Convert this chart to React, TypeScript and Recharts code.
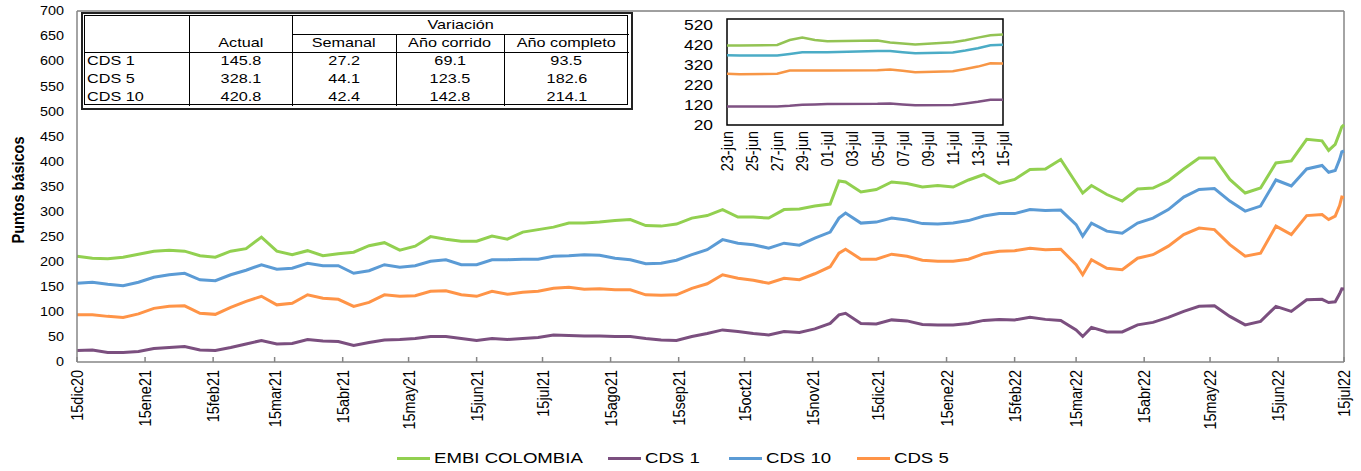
import {
  LineChart,
  Line,
  XAxis,
  YAxis,
  ReferenceLine,
  ReferenceArea,
} from "recharts";

// days since 15-dic-2020
const days = [
  0, 7, 14, 21, 28, 35, 42, 49, 56, 63, 70, 77, 84, 91, 98, 105, 112,
  119, 126, 133, 140, 147, 154, 161, 168, 175, 182, 189, 196, 203, 210, 217, 224, 231,
  238, 245, 252, 259, 266, 273, 280, 287, 294, 301, 308, 315, 322, 329, 336, 343, 347,
  350, 357, 364, 371, 378, 385, 392, 399, 406, 413, 420, 427, 434, 441, 448, 455, 458,
  462, 469, 476, 483, 490, 497, 504, 511, 518, 525, 532, 539, 546, 553, 560, 567,
  570, 573, 575, 576, 577,
];
const embi = [
  211, 207, 206, 209, 215, 221, 223, 221, 212, 209, 221, 226, 249, 221, 214, 222, 212,
  216, 219, 232, 238, 223, 231, 250, 245, 241, 241, 251, 245, 259, 264, 269, 277, 277,
  279, 282, 284, 272, 271, 275, 287, 292, 304, 289, 289, 287, 304, 305, 311, 315, 361,
  359, 339, 344, 359, 356, 349, 352, 349, 363, 374, 356, 364, 384, 385, 404, 357, 337,
  352, 334, 321, 345, 347, 361, 385, 407, 407, 364, 337, 347, 397, 401, 444, 441,
  422, 434, 457, 469, 473,
];
const cds1 = [
  23, 24, 19, 19, 21, 27, 29, 31, 24, 23, 29, 36, 43, 36, 37, 45, 42,
  41, 33, 39, 44, 45, 47, 51, 51, 47, 43, 47, 45, 47, 49, 54, 53, 52,
  52, 51, 51, 47, 44, 43, 51, 57, 64, 61, 57, 54, 61, 59, 66, 77, 94,
  97, 77, 76, 84, 82, 75, 74, 74, 77, 83, 85, 84, 89, 85, 83, 64, 51,
  69, 60, 60, 74, 79, 89, 101, 111, 112, 91, 74, 81, 111, 101, 124, 125,
  118.6, 120, 136, 146, 145.8,
];
const cds10 = [
  157, 159, 155, 152, 159, 169, 174, 177, 164, 162, 174, 183, 194, 185, 187, 197, 192,
  192, 177, 182, 194, 189, 192, 201, 204, 194, 194, 204, 204, 205, 205, 211, 212, 214,
  213, 207, 204, 196, 197, 203, 214, 224, 244, 237, 234, 227, 237, 233, 247, 259, 287,
  297, 277, 279, 287, 283, 276, 275, 277, 282, 291, 296, 296, 304, 302, 303, 274, 251,
  277, 261, 257, 277, 287, 304, 329, 344, 346, 321, 301, 311, 363, 351, 385, 392,
  378.4, 382, 404, 419, 420.8,
];
const cds5 = [
  94, 94, 91, 89, 96, 107, 111, 112, 97, 95, 109, 121, 131, 114, 117, 134, 127,
  125, 111, 119, 134, 131, 132, 141, 142, 134, 131, 141, 135, 139, 141, 147, 149, 145,
  146, 144, 144, 134, 133, 134, 147, 156, 174, 167, 163, 157, 167, 164, 176, 190, 217,
  225, 205, 205, 215, 211, 203, 201, 201, 205, 216, 221, 222, 227, 224, 225, 194, 174,
  204, 187, 184, 207, 214, 231, 254, 267, 264, 234, 211, 217, 271, 254, 292, 294,
  284, 291, 312, 329, 328.1,
];

const tickDays = [0, 31, 62, 90, 121, 151, 182, 212, 243, 274, 304, 335, 365, 396, 427, 455, 486, 516, 547, 577];
const tickLabels = [
  "15dic20", "15ene21", "15feb21", "15mar21", "15abr21", "15may21", "15jun21",
  "15jul21", "15ago21", "15sep21", "15oct21", "15nov21", "15dic21", "15ene22",
  "15feb22", "15mar22", "15abr22", "15may22", "15jun22", "15jul22",
];
const yTicks = [0, 50, 100, 150, 200, 250, 300, 350, 400, 450, 500, 550, 600, 650, 700];

// inset: days since 23-jun-2022
const insetDays = [0, 1, 4, 5, 6, 7, 8, 12, 13, 14, 15, 18, 19, 20, 21, 22];
const insetEmbi = [417, 417, 420, 445, 457, 445, 439, 442, 432, 427, 422, 434, 444, 457, 469, 473];
const insetCds1 = [113, 113, 113, 116, 121, 123, 125, 126, 128, 123, 118.6, 120, 128, 136, 146, 145.8];
const insetCds10 = [369, 367, 367, 375, 384, 384, 384, 390, 390, 384, 378.4, 382, 392, 404, 419, 420.8];
const insetCds5 = [276, 274, 276, 292, 292, 292, 292, 294, 297, 291, 284, 289, 300, 312, 329, 328.1];
const insetTickDays = [0, 2, 4, 6, 8, 10, 12, 14, 16, 18, 20, 22];
const insetTickLabels = [
  "23-jun", "25-jun", "27-jun", "29-jun", "01-jul", "03-jul",
  "05-jul", "07-jul", "09-jul", "11-jul", "13-jul", "15-jul",
];
const insetYTicks = [20, 120, 220, 320, 420, 520];

// table
const rowNames = ["CDS 1", "CDS 5", "CDS 10"];
const actual = [145.8, 328.1, 420.8];
const semanal = [27.2, 44.1, 42.4];
const anoCorrido = [69.1, 123.5, 142.8];
const anoCompleto = [93.5, 182.6, 214.1];

const GREEN = "#92D050";
const PURPLE = "#7B4F7F";
const BLUE = "#5B9BD5";
const ORANGE = "#FF9447";
const AXIS = "#868686";
const FONT = "'Liberation Sans', Arial, sans-serif";
const SX = 1.2;

const mainData = days.map((d, i) => ({
  day: d,
  embi: embi[i],
  cds1: cds1[i],
  cds10: cds10[i],
  cds5: cds5[i],
}));

const insetData = insetDays.map((d, i) => ({
  day: d,
  embi: insetEmbi[i],
  cds1: insetCds1[i],
  cds10: insetCds10[i],
  cds5: insetCds5[i],
}));

function MainXTick(props: any) {
  const { x, y, payload } = props;
  const label = tickLabels[tickDays.indexOf(payload.value)];
  return (
    <g>
      <line x1={x} x2={x} y1={y - 5} y2={y} stroke={AXIS} strokeWidth={1.5} />
      <text
        transform={`translate(${x + 6},${y + 8}) scale(${SX},1) rotate(-90)`}
        textAnchor="end"
        fontSize={14.5}
        fontFamily={FONT}
        fill="#000"
      >
        {label}
      </text>
    </g>
  );
}

function MainYTick(props: any) {
  const { x, y, payload } = props;
  return (
    <text
      transform={`translate(${x - 13},${y}) scale(${SX},1)`}
      textAnchor="end"
      dy="0.36em"
      fontSize={12}
      fontFamily={FONT}
      fill="#000"
    >
      {payload.value}
    </text>
  );
}

function InsetXTick(props: any) {
  const { x, y, payload } = props;
  const label = insetTickLabels[insetTickDays.indexOf(payload.value)];
  return (
    <text
      transform={`translate(${x + 6},${y + 6}) scale(${SX},1) rotate(-90)`}
      textAnchor="end"
      fontSize={14.5}
      fontFamily={FONT}
      fill="#000"
    >
      {label}
    </text>
  );
}

function InsetYTick(props: any) {
  const { x, y, payload } = props;
  return (
    <text
      transform={`translate(${x - 14},${y}) scale(${SX},1)`}
      textAnchor="end"
      dy="0.36em"
      fontSize={14.5}
      fontFamily={FONT}
      fill="#000"
    >
      {payload.value}
    </text>
  );
}

function Stretch({ children, origin = "center" }: { children: any; origin?: string }) {
  return (
    <span
      style={{
        display: "inline-block",
        transform: `scaleX(${SX})`,
        transformOrigin: origin,
        whiteSpace: "nowrap",
      }}
    >
      {children}
    </span>
  );
}

function SummaryTable() {
  // inner box 84..628 x 15..105
  const cols = [84, 188, 291, 395, 503, 628];
  const rowTop = 51;
  const rowH = 18;
  const cell = (left: number, right: number, top: number, text: string, align = "center") => (
    <div
      key={`${left}-${top}-${text}`}
      style={{
        position: "absolute",
        left: left - 84 + (align === "left" ? 2 : 0),
        top: top - 15,
        width: right - left,
        height: rowH,
        lineHeight: `${rowH}px`,
        textAlign: align as any,
      }}
    >
      <Stretch origin={align === "left" ? "left" : "center"}>{text}</Stretch>
    </div>
  );
  const vline = (x: number, y1: number, y2: number) => (
    <div
      key={`v${x}-${y1}`}
      style={{ position: "absolute", left: x - 84, top: y1 - 15, width: 1, height: y2 - y1, background: "#000" }}
    />
  );
  const hline = (y: number, x1: number, x2: number) => (
    <div
      key={`h${y}-${x1}`}
      style={{ position: "absolute", left: x1 - 84, top: y - 15, width: x2 - x1, height: 1, background: "#000" }}
    />
  );
  return (
    <div
      style={{
        position: "absolute",
        left: 81,
        top: 12,
        width: 546,
        height: 92,
        border: "2px solid #222",
        padding: 1,
        background: "#fff",
      }}
    >
      <div
        style={{
          position: "relative",
          width: 544,
          height: 90,
          border: "1px solid #000",
          boxSizing: "border-box",
          fontFamily: FONT,
          fontSize: 13.5,
          color: "#000",
        }}
      >
        {vline(cols[1], 15, 105)}
        {vline(cols[2], 15, 105)}
        {vline(cols[3], 33, 105)}
        {vline(cols[4], 33, 105)}
        {hline(33, cols[2], cols[5])}
        {hline(51, cols[0], cols[5])}
        {cell(cols[2], cols[5], 15, "Variación")}
        {cell(cols[1], cols[2], 33, "Actual")}
        {cell(cols[2], cols[3], 33, "Semanal")}
        {cell(cols[3], cols[4], 33, "Año corrido")}
        {cell(cols[4], cols[5], 33, "Año completo")}
        {rowNames.map((name, i) => {
          const top = rowTop + i * rowH;
          return [
            cell(cols[0], cols[1], top, name, "left"),
            cell(cols[1], cols[2], top, actual[i].toFixed(1)),
            cell(cols[2], cols[3], top, semanal[i].toFixed(1)),
            cell(cols[3], cols[4], top, anoCorrido[i].toFixed(1)),
            cell(cols[4], cols[5], top, anoCompleto[i].toFixed(1)),
          ];
        })}
      </div>
    </div>
  );
}

const legendItems = [
  { name: "EMBI COLOMBIA", color: GREEN, x: 397 },
  { name: "CDS 1", color: PURPLE, x: 608 },
  { name: "CDS 10", color: BLUE, x: 729 },
  { name: "CDS 5", color: ORANGE, x: 857 },
];

function ChartLegend() {
  return (
    <>
      {legendItems.map((it) => (
        <div
          key={it.name}
          style={{
            position: "absolute",
            left: it.x,
            top: 448,
            height: 20,
            display: "flex",
            alignItems: "center",
            fontFamily: FONT,
            fontSize: 15.5,
            color: "#000",
          }}
        >
          <div style={{ width: 33, height: 3, background: it.color }} />
          <span style={{ marginLeft: 4 }}>
            <Stretch origin="left">{it.name}</Stretch>
          </span>
        </div>
      ))}
    </>
  );
}

export default function App() {
  return (
    <div
      style={{
        position: "absolute",
        left: 0,
        top: 0,
        width: 1361,
        height: 471,
        background: "#fff",
        overflow: "hidden",
      }}
    >
      <LineChart
        width={1361}
        height={471}
        data={mainData}
        margin={{ top: 11, right: 17, bottom: 0, left: 0 }}
      >
        <XAxis
          dataKey="day"
          type="number"
          domain={[0, 577]}
          ticks={tickDays}
          interval={0}
          height={109}
          tickSize={0}
          tickMargin={0}
          axisLine={{ stroke: AXIS, strokeWidth: 1.5 }}
          tickLine={false}
          tick={(p: any) => <MainXTick {...p} />}
        />
        <YAxis
          type="number"
          domain={[0, 700]}
          ticks={yTicks}
          interval={0}
          width={77}
          tickSize={0}
          tickMargin={0}
          axisLine={{ stroke: AXIS, strokeWidth: 1.5 }}
          tickLine={false}
          tick={(p: any) => <MainYTick {...p} />}
        />
        <ReferenceLine y={700} stroke="#404040" strokeWidth={1} />
        <ReferenceLine x={577} stroke={AXIS} strokeWidth={1.5} />
        <Line dataKey="embi" stroke={GREEN} strokeWidth={3} dot={false} isAnimationActive={false} />
        <Line dataKey="cds1" stroke={PURPLE} strokeWidth={3} dot={false} isAnimationActive={false} />
        <Line dataKey="cds10" stroke={BLUE} strokeWidth={3} dot={false} isAnimationActive={false} />
        <Line dataKey="cds5" stroke={ORANGE} strokeWidth={3} dot={false} isAnimationActive={false} />
      </LineChart>

      <svg
        width={40}
        height={471}
        style={{ position: "absolute", left: 0, top: 0 }}
      >
        <text
          transform={`translate(24,190) scale(${SX},1) rotate(-90)`}
          textAnchor="middle"
          fontSize={14.5}
          fontWeight="bold"
          fontFamily={FONT}
          fill="#000"
        >
          Puntos básicos
        </text>
      </svg>

      <SummaryTable />

      <div style={{ position: "absolute", left: 660, top: 0 }}>
        <LineChart
          width={360}
          height={180}
          data={insetData}
          margin={{ top: 19, right: 17, bottom: 0, left: 0 }}
        >
          <XAxis
            dataKey="day"
            type="number"
            domain={[0, 22]}
            ticks={insetTickDays}
            interval={0}
            height={55}
            tickSize={0}
            tickMargin={0}
            axisLine={false}
            tickLine={false}
            tick={(p: any) => <InsetXTick {...p} />}
          />
          <YAxis
            type="number"
            domain={[20, 550]}
            ticks={insetYTicks}
            interval={0}
            width={67}
            tickSize={0}
            tickMargin={0}
            axisLine={false}
            tickLine={false}
            tick={(p: any) => <InsetYTick {...p} />}
          />
          <ReferenceArea x1={0} x2={22} y1={20} y2={550} stroke="#000" strokeWidth={1.5} fill="none" fillOpacity={0} />
          <Line dataKey="embi" stroke="#93C354" strokeWidth={2.5} dot={false} isAnimationActive={false} />
          <Line dataKey="cds1" stroke="#7F5283" strokeWidth={2.5} dot={false} isAnimationActive={false} />
          <Line dataKey="cds10" stroke="#4BACC6" strokeWidth={2.5} dot={false} isAnimationActive={false} />
          <Line dataKey="cds5" stroke="#F79646" strokeWidth={2.5} dot={false} isAnimationActive={false} />
        </LineChart>
      </div>

      <ChartLegend />
    </div>
  );
}
